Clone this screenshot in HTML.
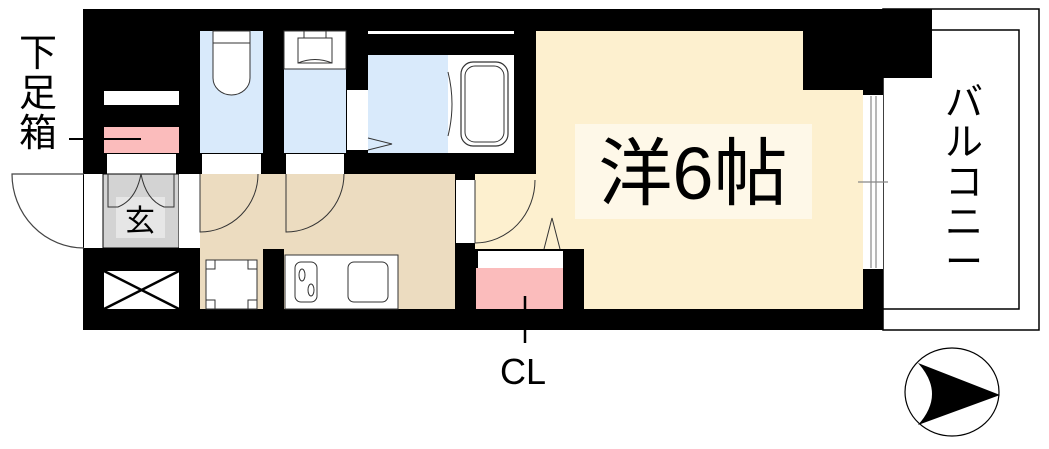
<!DOCTYPE html>
<html><head><meta charset="utf-8"><style>
html,body{margin:0;padding:0;background:#fff;width:1049px;height:449px;overflow:hidden}
svg{display:block}
text{font-family:"Liberation Sans","Noto Sans CJK JP",sans-serif;fill:#000}
</style></head><body>
<svg width="1049" height="449" viewBox="0 0 1049 449" xmlns="http://www.w3.org/2000/svg">
<!-- balcony -->
<rect x="883" y="9" width="156" height="321" fill="#fff" stroke="#000" stroke-width="1.5"/>
<rect x="883" y="30" width="136" height="279" fill="#fff" stroke="#000" stroke-width="1.5"/>
<!-- main black -->
<rect x="83" y="9" width="800" height="321" fill="#000"/>
<rect x="883" y="9" width="49" height="69" fill="#000"/>
<!-- room -->
<path d="M536 31 H803 V90 H863 V309 H584 V249 H475 V174 H536 Z" fill="#fdf0cf"/>
<rect x="575" y="124" width="237" height="95" fill="#fef8e8"/>
<text x="693" y="199" font-size="74" text-anchor="middle">洋6帖</text>
<!-- window -->
<rect x="863" y="95" width="20" height="174" fill="#fff"/>
<line x1="871" y1="96" x2="871" y2="268" stroke="#888" stroke-width="1.2"/>
<line x1="876" y1="96" x2="876" y2="268" stroke="#888" stroke-width="1.2"/>
<line x1="858" y1="182" x2="888" y2="182" stroke="#888" stroke-width="1.2"/>
<!-- balcony text -->
<g font-size="38" text-anchor="middle">
<text x="964" y="115">バ</text><text x="964" y="155">ル</text><text x="964" y="195">コ</text><text x="964" y="235">ニ</text><text x="964" y="275">ー</text>
</g>
<!-- toilet -->
<rect x="200" y="31" width="63" height="122" fill="#d9eafb"/>
<rect x="202" y="154" width="59" height="20" fill="#fff"/>
<rect x="213" y="31" width="37" height="12" fill="#fff" stroke="#333" stroke-width="1"/>
<path d="M213 43 V78 A18.5 17 0 0 0 250 78 V43 Z" fill="#fff" stroke="#333" stroke-width="1"/>
<!-- wash -->
<rect x="284" y="31" width="62" height="122" fill="#d9eafb"/>
<rect x="284" y="31" width="62" height="38" fill="#fff" stroke="#333" stroke-width="1"/>
<rect x="298" y="38" width="34" height="25" fill="#fff" stroke="#333" stroke-width="1"/>
<line x1="304" y1="31" x2="304" y2="38" stroke="#333"/><line x1="326" y1="31" x2="326" y2="38" stroke="#333"/>
<path d="M298 63 Q315 56 332 63" fill="none" stroke="#333"/>
<rect x="286" y="154" width="58" height="20" fill="#fff"/>
<!-- bath -->
<rect x="347" y="90" width="21" height="60" fill="#fff"/>
<rect x="368" y="55" width="80" height="98" fill="#d9eafb"/>
<rect x="448" y="55" width="66" height="98" fill="#fff"/>
<rect x="461" y="62" width="47" height="84" rx="12" fill="none" stroke="#333" stroke-width="1.2"/>
<rect x="465" y="66" width="39" height="76" rx="10" fill="none" stroke="#333" stroke-width="1"/>
<path d="M448 72 Q456 104 448 136" fill="none" stroke="#333"/>
<rect x="368" y="31" width="146" height="3" fill="#fff"/>
<path d="M368 138 L392 144 L368 150" fill="none" stroke="#333"/>
<!-- shoe box -->
<rect x="104" y="91" width="75" height="14" fill="#fff"/>
<rect x="104" y="127" width="75" height="26" fill="#fbbcbc"/>
<rect x="107" y="154" width="69" height="20" fill="#fff"/>
<!-- entrance -->
<rect x="84" y="174" width="19" height="74" fill="#fff"/>
<rect x="103" y="174" width="76" height="74" fill="#d3d3d3" stroke="#000" stroke-width="1"/>
<rect x="179" y="174" width="21" height="74" fill="#fff"/>
<rect x="116" y="197" width="49" height="41" fill="#e6e6e6"/>
<text x="140" y="231" font-size="30" text-anchor="middle">玄</text>
<path d="M108 174 V207 H118 Q136 200 141 174 Q146 200 164 207 H174 V174" fill="none" stroke="#333" stroke-width="1"/>
<path d="M84 174 H12 A72 74 0 0 0 84 248" fill="none" stroke="#444" stroke-width="1.2"/>
<!-- hallway -->
<rect x="200" y="174" width="255" height="135" fill="#ecdcc0"/>
<path d="M200 174 V232 A58 58 0 0 0 258 174" fill="none" stroke="#333" stroke-width="1"/>
<path d="M286 174 V232 A58 58 0 0 0 344 174" fill="none" stroke="#333" stroke-width="1"/>
<rect x="263" y="249" width="21" height="60" fill="#000"/>
<rect x="206" y="260" width="51" height="49" fill="#fff" stroke="#333" stroke-width="1"/>
<g fill="none" stroke="#333" stroke-width="1"><rect x="206" y="260" width="9" height="9"/><rect x="248" y="260" width="9" height="9"/><rect x="206" y="300" width="9" height="9"/><rect x="248" y="300" width="9" height="9"/></g>
<rect x="285" y="255" width="113" height="54" fill="#fff" stroke="#333" stroke-width="1"/>
<rect x="295" y="262" width="22" height="40" rx="6" fill="none" stroke="#333"/>
<ellipse cx="302" cy="275" rx="3" ry="6" fill="none" stroke="#333"/>
<ellipse cx="311" cy="290" rx="3" ry="6" fill="none" stroke="#333"/>
<rect x="348" y="262" width="40" height="40" rx="6" fill="none" stroke="#333"/>
<!-- room door -->
<rect x="456" y="180" width="19" height="63" fill="#fff"/>
<path d="M475 180 V243 A60 63 0 0 0 535 180" fill="none" stroke="#333" stroke-width="1"/>
<!-- closet -->
<rect x="478" y="251" width="85" height="17" fill="#fff"/>
<rect x="476" y="268" width="87" height="41" fill="#fbbcbc"/>
<path d="M544 249 L552 218 L560 249" fill="none" stroke="#333"/>
<!-- cross box -->
<rect x="104" y="271" width="75" height="38" fill="#fff"/>
<line x1="104" y1="271" x2="179" y2="309" stroke="#000" stroke-width="2.5"/>
<line x1="104" y1="309" x2="179" y2="271" stroke="#000" stroke-width="2.5"/>
<!-- labels -->
<g font-size="38" text-anchor="middle">
<text x="38" y="66">下</text><text x="38" y="106">足</text><text x="38" y="146">箱</text>
</g>
<line x1="69" y1="139" x2="141" y2="139" stroke="#000" stroke-width="2"/>
<line x1="525" y1="296" x2="525" y2="343" stroke="#000" stroke-width="2.5"/>
<text x="523" y="384" font-size="36" text-anchor="middle">CL</text>
<!-- compass -->
<ellipse cx="952" cy="392" rx="47" ry="44" fill="#fff" stroke="#000" stroke-width="1.2"/>
<path d="M918 363 L1000 395 L918 425 Q946 394 918 363 Z" fill="#000"/>
</svg>
</body></html>
